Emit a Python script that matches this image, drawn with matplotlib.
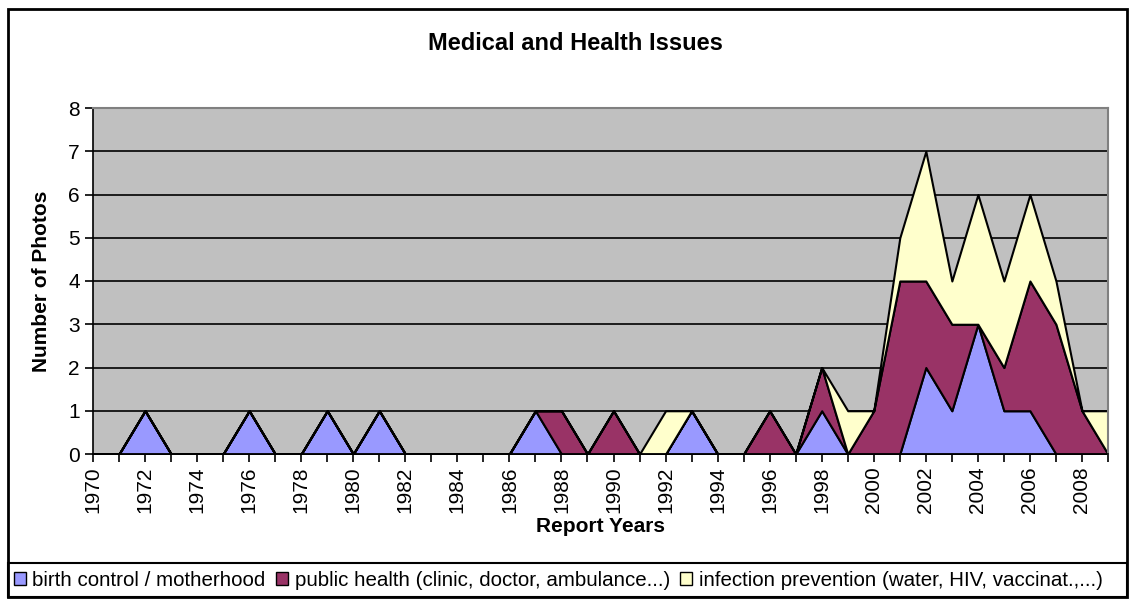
import numpy as np
import matplotlib
matplotlib.use('Agg')
import matplotlib.pyplot as plt
from matplotlib.patches import Patch, Rectangle

plt.rcParams['font.family'] = ['Liberation Sans', 'DejaVu Sans']

years = list(range(1970, 2010))

# values per year, 1970 .. 2009
birth_control = [0, 0, 1, 0, 0, 0, 1, 0, 0, 1,
                 0, 1, 0, 0, 0, 0, 0, 1, 0, 0,
                 0, 0, 0, 1, 0, 0, 0, 0, 1, 0,
                 0, 0, 2, 1, 3, 1, 1, 0, 0, 0]
public_health = [0, 0, 0, 0, 0, 0, 0, 0, 0, 0,
                 0, 0, 0, 0, 0, 0, 0, 0, 1, 0,
                 1, 0, 0, 0, 0, 0, 1, 0, 1, 0,
                 1, 4, 2, 2, 0, 1, 3, 3, 1, 0]
infection_prev = [0, 0, 0, 0, 0, 0, 0, 0, 0, 0,
                  0, 0, 0, 0, 0, 0, 0, 0, 0, 0,
                  0, 0, 1, 0, 0, 0, 0, 0, 0, 1,
                  0, 1, 3, 1, 3, 2, 2, 1, 0, 1]

labels = ['birth control / motherhood',
          'public health (clinic, doctor, ambulance...)',
          'infection prevention (water, HIV, vaccinat.,...)']
colors = ['#9999FF', '#993366', '#FFFFCC']

fig = plt.figure(figsize=(11.31, 5.99), dpi=100)
ax = fig.add_axes([93 / 1131, 1 - 454 / 599, 1015 / 1131, 346 / 599])
ax.set_facecolor('#C0C0C0')

for y in range(1, 9):
    ax.axhline(y, color='black', linewidth=1.2, zorder=1)

ax.stackplot(years, birth_control, public_health, infection_prev,
             colors=colors, edgecolor='black', linewidth=1.5, zorder=2)

ax.set_xlim(1970, 2009)
ax.set_ylim(0, 8)
ax.set_yticks(range(0, 9))
ax.set_xticks(range(1970, 2009, 2))
ax.set_xticks(years, minor=True)
ax.set_xticklabels([str(y) for y in range(1970, 2009, 2)], rotation=90)
ax.tick_params(axis='both', labelsize=15, length=6, width=1.2, direction='out')
ax.tick_params(axis='x', which='minor', length=6, width=1.2)
ax.tick_params(axis='x', pad=3)

for s in ['left', 'bottom']:
    ax.spines[s].set_color('black')
    ax.spines[s].set_linewidth(1.2)
for s in ['top', 'right']:
    ax.spines[s].set_color('#808080')
    ax.spines[s].set_linewidth(1.5)

ax.set_xlabel('Report Years', fontsize=15, fontweight='bold', labelpad=3)
ax.set_ylabel('Number of Photos', fontsize=15, fontweight='bold', labelpad=12)
fig.text(575 / 1131, 1 - 44 / 599, 'Medical and Health Issues', fontsize=17,
         fontweight='bold', ha='center', va='center')

# chart border and legend box
fig.patches.append(Rectangle((8 / 1131, 1 - 597 / 599), 1119 / 1131, 588 / 599,
                             transform=fig.transFigure, fill=False,
                             edgecolor='black', linewidth=2))
fig.patches.append(Rectangle((8 / 1131, 1 - 597 / 599), 1119 / 1131, 34 / 599,
                             transform=fig.transFigure, fill=False,
                             edgecolor='black', linewidth=1.5))

handles = [Patch(facecolor=c, edgecolor='black', linewidth=1) for c in colors]
fig.legend(handles, labels, loc='center left', ncol=3, frameon=False,
           bbox_to_anchor=(14 / 1131, 1 - 580 / 599), fontsize=14.8,
           handlelength=0.6, handleheight=0.6, handletextpad=0.3,
           columnspacing=0.5, borderpad=0, borderaxespad=0)

fig.savefig('out.png', dpi=100)
